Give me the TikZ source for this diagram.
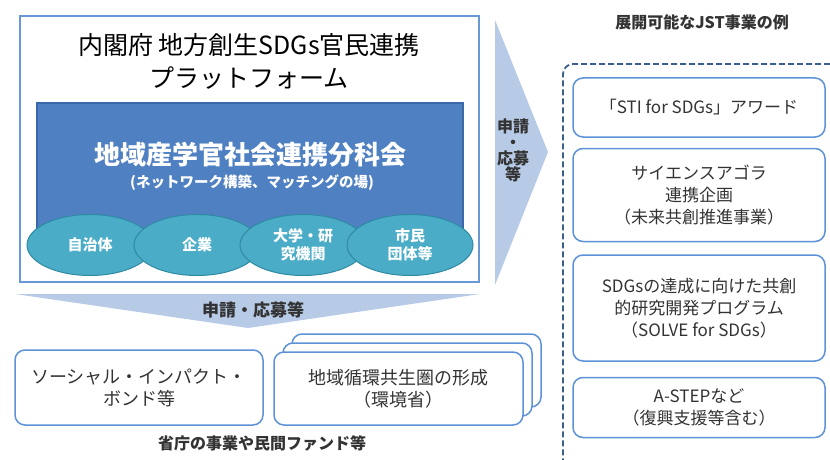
\documentclass[tikz,border=0pt]{standalone}
\usepackage{fontspec}
\setmainfont{Noto Sans CJK JP}
\usepackage{tikz}
\usetikzlibrary{positioning,shapes}
\definecolor{platline}{HTML}{6A98D6}
\definecolor{bunkablue}{HTML}{4F80C2}
\definecolor{bunkaedge}{HTML}{3A68A8}
\definecolor{actorteal}{HTML}{4AACC6}
\definecolor{actoredge}{HTML}{2F8AA3}
\definecolor{chevron}{HTML}{B7CBE6}
\definecolor{boxline}{HTML}{5E92D6}
\definecolor{dashline}{HTML}{3D5F8F}
\definecolor{textgray}{HTML}{333333}

\begin{document}
\begin{tikzpicture}[x=1pt,y=-1pt,node distance=10pt,semithick]
\tikzstyle{platbox}=[draw=platline,line width=1.3pt,fill=white,inner sep=0pt]
\tikzstyle{bunka}=[draw=bunkaedge,line width=1.2pt,fill=bunkablue,inner sep=0pt]
\tikzstyle{actor}=[ellipse,draw=actoredge,line width=1pt,fill=actorteal,text=white,
  minimum width=126pt,minimum height=61pt,inner sep=0pt,align=center,
  font=\fontsize{15}{18}\selectfont\bfseries]
\tikzstyle{jstbox}=[draw=boxline,line width=1.5pt,fill=white,rounded corners=10pt,
  minimum width=252pt,inner sep=0pt,align=center,text=textgray,
  font=\fontsize{17}{22}\selectfont]
\tikzstyle{fundbox}=[draw=boxline,line width=1.5pt,fill=white,rounded corners=10pt,
  minimum width=249pt,minimum height=73pt,inner sep=0pt,align=center,text=textgray,
  font=\fontsize{18}{22}\selectfont]
\tikzstyle{oubo}=[text=textgray,align=center,font=\fontsize{16}{16}\selectfont\bfseries]

\useasboundingbox (0,0) rectangle (830,460);

% platform
\node[platbox,minimum width=459pt,minimum height=266pt] (plat) at (249.5,149) {};
\node[align=center,font=\fontsize{25}{33}\selectfont] (platname) at (249,61.5)
  {内閣府 地方創生SDGs官民連携\\プラットフォーム};
\node[bunka,minimum width=426pt,minimum height=129pt] (bunkakai) at (250,167.5) {};
\node[text=white,font=\fontsize{26}{26}\selectfont\bfseries] (bunkaname) at (250,155)
  {地域産学官社会連携分科会};
\node[text=white,font=\fontsize{14.5}{14.5}\selectfont\bfseries] (bunkasub) at (252,183)
  {(ネットワーク構築、マッチングの場)};

\node[actor] (jichitai) at (90,245) {自治体};
\node[actor] (kigyo)    at (197,245) {企業};
\node[actor] (daigaku)  at (303,245) {大学・研\\究機関};
\node[actor] (shimin)   at (410,245) {市民\\団体等};

% arrows
\path[fill=chevron] (15,294) -- (480,294) -- (248,328) -- cycle;
\node[oubo,font=\fontsize{17}{17}\selectfont\bfseries] (ouboDown) at (253,310) {申請・応募等};
\path[fill=chevron] (495,20) -- (548,152) -- (495,285) -- cycle;
\node[oubo] (ouboRight) at (513,150) {申請\\・\\応募\\等};

% ministries and funds
\node[fundbox,minimum width=248pt,minimum height=75pt] (sib) at (139,387.5)
  {ソーシャル・インパクト・\\ボンド等};
\node[fundbox] (junkan3) at (416.5,370.5) {};
\node[fundbox] (junkan2) at (407.5,379.5) {};
\node[fundbox] (junkan)  at (398.5,388.5) {地域循環共生圏の形成\\（環境省）};
\node[text=textgray,font=\fontsize{16}{16}\selectfont\bfseries] (fundlabel) at (262,443)
  {省庁の事業や民間ファンド等};

% JST programmes
\node[text=textgray,font=\fontsize{16}{16}\selectfont\bfseries] (jstlabel) at (702,22)
  {展開可能なJST事業の例};
\draw[dashline,line width=1.8pt,dash pattern=on 6pt off 3pt,rounded corners=10pt]
  (830,64) -- (563,64) -- (563,460);

\node[jstbox,minimum height=59pt] (award) at (699,107.5) {「STI for SDGs」アワード};
\node[jstbox,minimum height=93pt] (agora) [below=10pt of award]
  {サイエンスアゴラ\\連携企画\\（未来共創推進事業）};
\node[jstbox,minimum height=106pt] (solve) [below=12pt of agora]
  {SDGsの達成に向けた共創\\的研究開発プログラム\\（SOLVE for SDGs）};
\node[jstbox,minimum height=60pt] (astep) [below=15pt of solve]
  {A-STEPなど\\（復興支援等含む）};
\end{tikzpicture}
\end{document}
